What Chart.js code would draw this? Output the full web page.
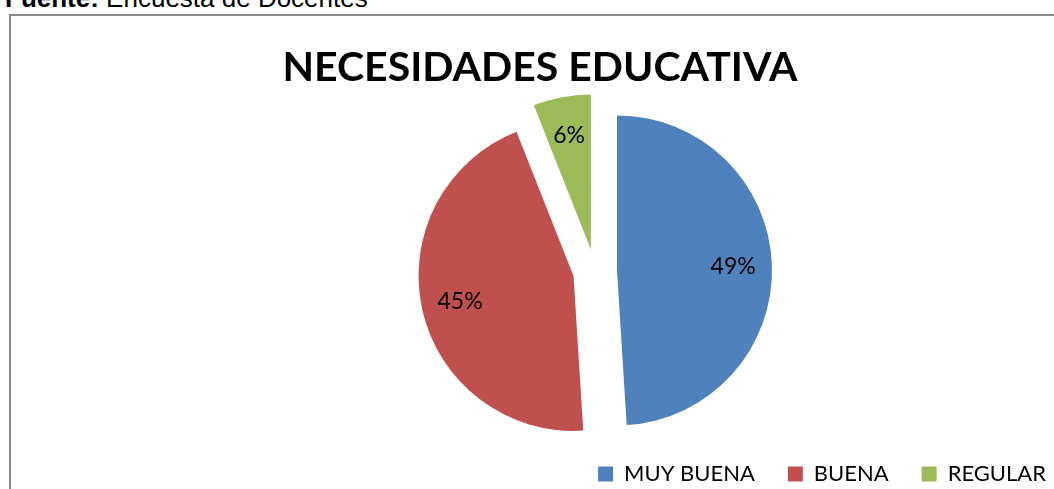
<!DOCTYPE html>
<html>
<head>
<meta charset="utf-8">
<script src="https://cdn.jsdelivr.net/npm/chart.js@4.4.1/dist/chart.umd.min.js"></script>
<style>
  html, body { margin: 0; padding: 0; background: #fff; width: 1054px; height: 489px; overflow: hidden; }
  #fuente { position: absolute; left: 5px; top: -15px; font: 26px/26px "Liberation Sans", Arial, sans-serif; color: #000; white-space: nowrap; }
  #frame { position: absolute; left: 9px; top: 14px; width: 1100px; height: 520px; border-left: 2px solid #8a8a8a; border-top: 2px solid #8a8a8a; }
  #wrap { position: absolute; left: 1px; top: 16px; width: 1078px; height: 479px; }
</style>
</head>
<body>
<div id="fuente"><b>Fuente:</b> Encuesta de Docentes</div>
<div id="frame"></div>
<div id="wrap"><canvas id="chart"></canvas></div>
<script>
const chartTitle = 'NECESIDADES EDUCATIVA';
const categories = ['MUY BUENA', 'BUENA', 'REGULAR'];
const percentages = [49, 45, 6];
const sliceColors = ['#4F81BD', '#C0504D', '#9BBB59'];

Chart.defaults.font.family = 'Lato, "Noto Sans", sans-serif';
Chart.defaults.color = '#000';

// Move the plot area sideways so the pie sits right of the title's centre.
const pieShift = {
  id: 'pieShift',
  afterLayout(chart, args, opts) {
    const a = chart.chartArea;
    a.left += opts.dx;
    a.right += opts.dx;
  }
};

// Pull every slice out from the centre along its middle angle.
const explode = {
  id: 'explode',
  afterDatasetUpdate(chart, args, opts) {
    args.meta.data.forEach(arc => {
      const mid = (arc.startAngle + arc.endAngle) / 2;
      arc.x += Math.cos(mid) * opts.gap;
      arc.y += Math.sin(mid) * opts.gap;
    });
  }
};

// Percentage text inside each slice.
const sliceLabels = {
  id: 'sliceLabels',
  afterDatasetsDraw(chart, args, opts) {
    const ctx = chart.ctx;
    const meta = chart.getDatasetMeta(0);
    const data = chart.data.datasets[0].data;
    ctx.save();
    ctx.font = opts.size + 'px ' + opts.family;
    ctx.fillStyle = opts.color;
    ctx.textAlign = 'center';
    ctx.textBaseline = 'middle';
    meta.data.forEach((arc, i) => {
      const mid = (arc.startAngle + arc.endAngle) / 2;
      const r = arc.outerRadius * opts.position;
      ctx.fillText(data[i] + '%', arc.x + Math.cos(mid) * r, arc.y + Math.sin(mid) * r);
    });
    ctx.restore();
  }
};

new Chart(document.getElementById('chart'), {
  type: 'pie',
  data: {
    labels: categories,
    datasets: [{
      data: percentages,
      backgroundColor: sliceColors,
      borderWidth: 0,
      radius: 155,
      clip: false
    }]
  },
  options: {
    responsive: true,
    maintainAspectRatio: false,
    animation: false,
    events: [],
    layout: { padding: 0 },
    plugins: {
      title: {
        display: true,
        text: chartTitle,
        color: '#000',
        font: { family: 'Lato', size: 41, weight: 'bold', lineHeight: 1.2 },
        padding: { top: 27, bottom: 20 }
      },
      legend: {
        position: 'bottom',
        align: 'end',
        labels: {
          color: '#000',
          font: { family: 'Lato', size: 22 },
          boxWidth: 15,
          boxHeight: 15,
          padding: 33
        }
      },
      tooltip: { enabled: false },
      pieShift: { dx: 55 },
      explode: { gap: 22 },
      sliceLabels: { family: 'Lato', size: 23, color: '#000', position: 0.75 }
    }
  },
  plugins: [pieShift, explode, sliceLabels]
});
</script>
</body>
</html>
